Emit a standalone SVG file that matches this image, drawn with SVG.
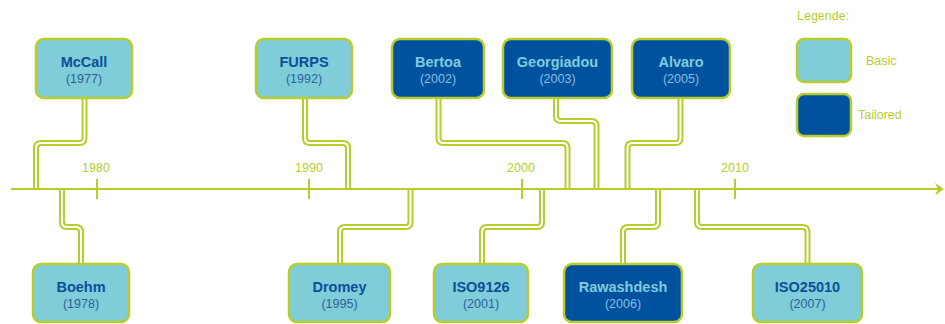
<svg xmlns="http://www.w3.org/2000/svg" width="945" height="324" viewBox="0 0 945 324">
  <style>
    .box { stroke: #b8cc2c; stroke-width: 2.5; }
    .basic { fill: #7fcdd8; }
    .tailored { fill: #00529f; }
    .name { font-family: "Liberation Sans", Arial, sans-serif; font-size: 14.5px; font-weight: bold; text-anchor: middle; }
    .year { font-family: "Liberation Sans", Arial, sans-serif; font-size: 12.5px; text-anchor: middle; }
    .basic-t .name { fill: #0c4f98; }
    .basic-t .year { fill: #2d5f9b; }
    .tailored-t .name { fill: #80cbdc; }
    .tailored-t .year { fill: #86bfe0; }
    .wire-out { fill: none; stroke: #b8cc2c; stroke-width: 6; stroke-linejoin: round; }
    .wire-in { fill: none; stroke: #ffffff; stroke-width: 2; stroke-linejoin: round; }
    .axis { stroke: #b8cc2c; stroke-width: 2; fill: none; }
    .label { font-family: "Liberation Sans", Arial, sans-serif; font-size: 12.5px; fill: #b8cc2c; }
  </style>
  <defs>
    <path id="c-mccall" d="M84.5 99 V138 Q84.5 143 79.5 143 H41 Q36 143 36 148 V189"/>
    <path id="c-boehm" d="M62 189 V222 Q62 227 67 227 H76 Q81 227 81 232 V264"/>
    <path id="c-furps" d="M305 99 V138 Q305 143 310 143 H343 Q348 143 348 148 V189"/>
    <path id="c-dromey" d="M410.5 189 V222 Q410.5 227 405.5 227 H345 Q340 227 340 232 V264"/>
    <path id="c-iso9126" d="M542 189 V222 Q542 227 537 227 H487 Q482 227 482 232 V264"/>
    <path id="c-bertoa" d="M438.5 99 V138 Q438.5 143 443.5 143 H562.5 Q567.5 143 567.5 148 V189"/>
    <path id="c-georgiadou" d="M556 99 V116 Q556 121 561 121 H591.5 Q596.5 121 596.5 126 V189"/>
    <path id="c-alvaro" d="M680.5 99 V138 Q680.5 143 675.5 143 H632.5 Q627.5 143 627.5 148 V189"/>
    <path id="c-rawashdesh" d="M658 189 V222 Q658 227 653 227 H628 Q623 227 623 232 V264"/>
    <path id="c-iso25010" d="M697 189 V222 Q697 227 702 227 H802.5 Q807.5 227 807.5 232 V264"/>
  </defs>

  <!-- connectors: double rails from each box to the time axis -->
  <g id="connectors">
    <g class="wire-out">
      <use href="#c-mccall"/><use href="#c-boehm"/><use href="#c-furps"/><use href="#c-dromey"/>
      <use href="#c-iso9126"/><use href="#c-bertoa"/><use href="#c-georgiadou"/><use href="#c-alvaro"/>
      <use href="#c-rawashdesh"/><use href="#c-iso25010"/>
    </g>
    <g class="wire-in">
      <use href="#c-mccall"/><use href="#c-boehm"/><use href="#c-furps"/><use href="#c-dromey"/>
      <use href="#c-iso9126"/><use href="#c-bertoa"/><use href="#c-georgiadou"/><use href="#c-alvaro"/>
      <use href="#c-rawashdesh"/><use href="#c-iso25010"/>
    </g>
  </g>

  <!-- time axis with decade ticks -->
  <g id="axis">
    <line class="axis" x1="11" y1="189" x2="938" y2="189"/>
    <path d="M935 183 L944 189 L935 195.5 L938 189 Z" fill="#b8cc2c"/>
    <line class="axis" x1="97" y1="179" x2="97" y2="199"/>
    <line class="axis" x1="309" y1="179" x2="309" y2="199"/>
    <line class="axis" x1="522" y1="179" x2="522" y2="199"/>
    <line class="axis" x1="735" y1="179" x2="735" y2="199"/>
    <text class="label" x="96" y="172" text-anchor="middle">1980</text>
    <text class="label" x="309" y="172" text-anchor="middle">1990</text>
    <text class="label" x="521" y="172" text-anchor="middle">2000</text>
    <text class="label" x="735" y="172" text-anchor="middle">2010</text>
  </g>

  <!-- upper row -->
  <g id="mccall" class="basic-t">
    <rect class="box basic" x="36" y="39" width="96" height="59" rx="8"/>
    <text class="name" x="84" y="67">McCall</text>
    <text class="year" x="84" y="83">(1977)</text>
  </g>
  <g id="furps" class="basic-t">
    <rect class="box basic" x="256" y="39" width="96" height="59" rx="8"/>
    <text class="name" x="304" y="67">FURPS</text>
    <text class="year" x="304" y="83">(1992)</text>
  </g>
  <g id="bertoa" class="tailored-t">
    <rect class="box tailored" x="392" y="39" width="92" height="59" rx="8"/>
    <text class="name" x="438" y="67">Bertoa</text>
    <text class="year" x="438" y="83">(2002)</text>
  </g>
  <g id="georgiadou" class="tailored-t">
    <rect class="box tailored" x="503" y="39" width="109" height="59" rx="8"/>
    <text class="name" x="557.5" y="67">Georgiadou</text>
    <text class="year" x="557.5" y="83">(2003)</text>
  </g>
  <g id="alvaro" class="tailored-t">
    <rect class="box tailored" x="632" y="39" width="98" height="59" rx="8"/>
    <text class="name" x="681" y="67">Alvaro</text>
    <text class="year" x="681" y="83">(2005)</text>
  </g>

  <!-- lower row -->
  <g id="boehm" class="basic-t">
    <rect class="box basic" x="33" y="264" width="96" height="58" rx="8"/>
    <text class="name" x="81" y="292">Boehm</text>
    <text class="year" x="81" y="308">(1978)</text>
  </g>
  <g id="dromey" class="basic-t">
    <rect class="box basic" x="289" y="264" width="101" height="58" rx="8"/>
    <text class="name" x="339.5" y="292">Dromey</text>
    <text class="year" x="339.5" y="308">(1995)</text>
  </g>
  <g id="iso9126" class="basic-t">
    <rect class="box basic" x="434" y="264" width="94" height="58" rx="8"/>
    <text class="name" x="481" y="292">ISO9126</text>
    <text class="year" x="481" y="308">(2001)</text>
  </g>
  <g id="rawashdesh" class="tailored-t">
    <rect class="box tailored" x="564" y="264" width="118" height="58" rx="8"/>
    <text class="name" x="623" y="292">Rawashdesh</text>
    <text class="year" x="623" y="308">(2006)</text>
  </g>
  <g id="iso25010" class="basic-t">
    <rect class="box basic" x="753" y="264" width="109" height="58" rx="8"/>
    <text class="name" x="807.5" y="292">ISO25010</text>
    <text class="year" x="807.5" y="308">(2007)</text>
  </g>

  <!-- legend -->
  <g id="legend">
    <text class="label" x="797" y="20">Legende:</text>
    <rect class="box basic" x="797" y="39" width="54" height="43" rx="7"/>
    <text class="label" x="866" y="65">Basic</text>
    <rect class="box tailored" x="797" y="94" width="54" height="42" rx="7"/>
    <text class="label" x="858" y="119">Tailored</text>
  </g>
</svg>
